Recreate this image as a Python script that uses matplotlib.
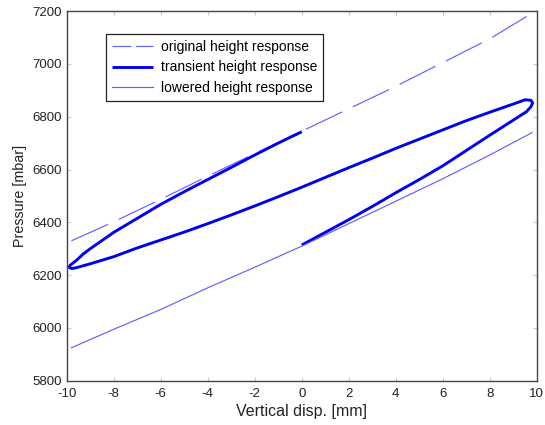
import matplotlib
matplotlib.use("Agg")
import matplotlib.pyplot as plt
import numpy as np

plt.rcParams['font.family'] = ['Liberation Sans', 'DejaVu Sans']
plt.rcParams['axes.unicode_minus'] = False

# original height response
x_orig = [-9.8, -8, -6, -4, -2, 0, 2, 4, 6, 8, 9.8]
y_orig = [6330, 6402, 6487, 6575, 6660, 6745, 6830, 6915, 7005, 7095, 7192]

# lowered height response
x_low = [-9.8, -8, -6, -4, -2, 0, 2, 4, 6, 8, 9.8]
y_low = [5925, 5995, 6070, 6152, 6230, 6310, 6395, 6480, 6565, 6655, 6740]

# transient height response (single traced loop)
x_tr = [0, -1, -2, -3, -4, -5, -6, -7, -8, -9, -9.3, -9.6, -9.85, -9.9, -9.8, -9.6,
        -9, -8, -7, -6, -5, -4, -3, -2, -1, 0, 1, 2, 3, 4, 5, 6, 7, 8, 9, 9.5, 9.75,
        9.82, 9.75, 9.56, 9, 8, 7, 6, 5, 4, 3, 2, 1, 0]
y_tr = [6743, 6700, 6655, 6608, 6562, 6516, 6468, 6415, 6362, 6300, 6280, 6255, 6238, 6230, 6225, 6228,
        6243, 6270, 6303, 6333, 6363, 6395, 6428, 6462, 6497, 6533, 6570, 6607, 6643, 6680, 6715, 6750, 6785, 6817, 6848, 6864, 6862,
        6852, 6838, 6819, 6787, 6730, 6672, 6614, 6562, 6512, 6460, 6410, 6362, 6314]

labels = ["original height response", "transient height response", "lowered height response"]

fig = plt.figure(figsize=(5.45, 4.25), dpi=100)
ax = fig.add_axes([0.1224, 0.104, 0.8626, 0.870])

thin = (0.38, 0.38, 1.0)
ax.plot(x_orig, y_orig, color=thin, lw=0.85, dashes=(34, 10), label=labels[0])
ax.plot(x_tr, y_tr, color=(0.0, 0.0, 0.95), lw=2.1, solid_joinstyle='round',
        solid_capstyle='butt', label=labels[1])
ax.plot(x_low, y_low, color=thin, lw=0.85, label=labels[2])

ax.set_xlim(-10, 10)
ax.set_ylim(5800, 7200)
ax.set_xticks(np.arange(-10, 11, 2))
ax.set_yticks(np.arange(5800, 7201, 200))
ax.tick_params(direction='in', length=3, width=0.6, color='#bbbbbb', top=True, right=True,
               labelsize=9.5, labelcolor='#222222')
ax.tick_params(axis='x', pad=5)
ax.tick_params(axis='y', pad=3.5)
for s in ax.spines.values():
    s.set_color('#444444')
    s.set_linewidth(1.0)

ax.set_xlabel("Vertical disp. [mm]", fontsize=11.5, color='#222222', labelpad=3)
ax.set_ylabel("Pressure [mbar]", fontsize=10.3, color='#222222', labelpad=4)

leg = ax.legend(loc='upper left', bbox_to_anchor=(0.0836, 0.938), fontsize=10,
                frameon=True, fancybox=False, edgecolor='#222222', framealpha=1,
                handlelength=2.9, borderpad=0.45, labelspacing=0.45, handletextpad=0.6,
                borderaxespad=0)
leg.get_frame().set_linewidth(0.9)
leg.get_lines()[0].set_dashes((16, 4))

fig.savefig("out.png", dpi=100)
